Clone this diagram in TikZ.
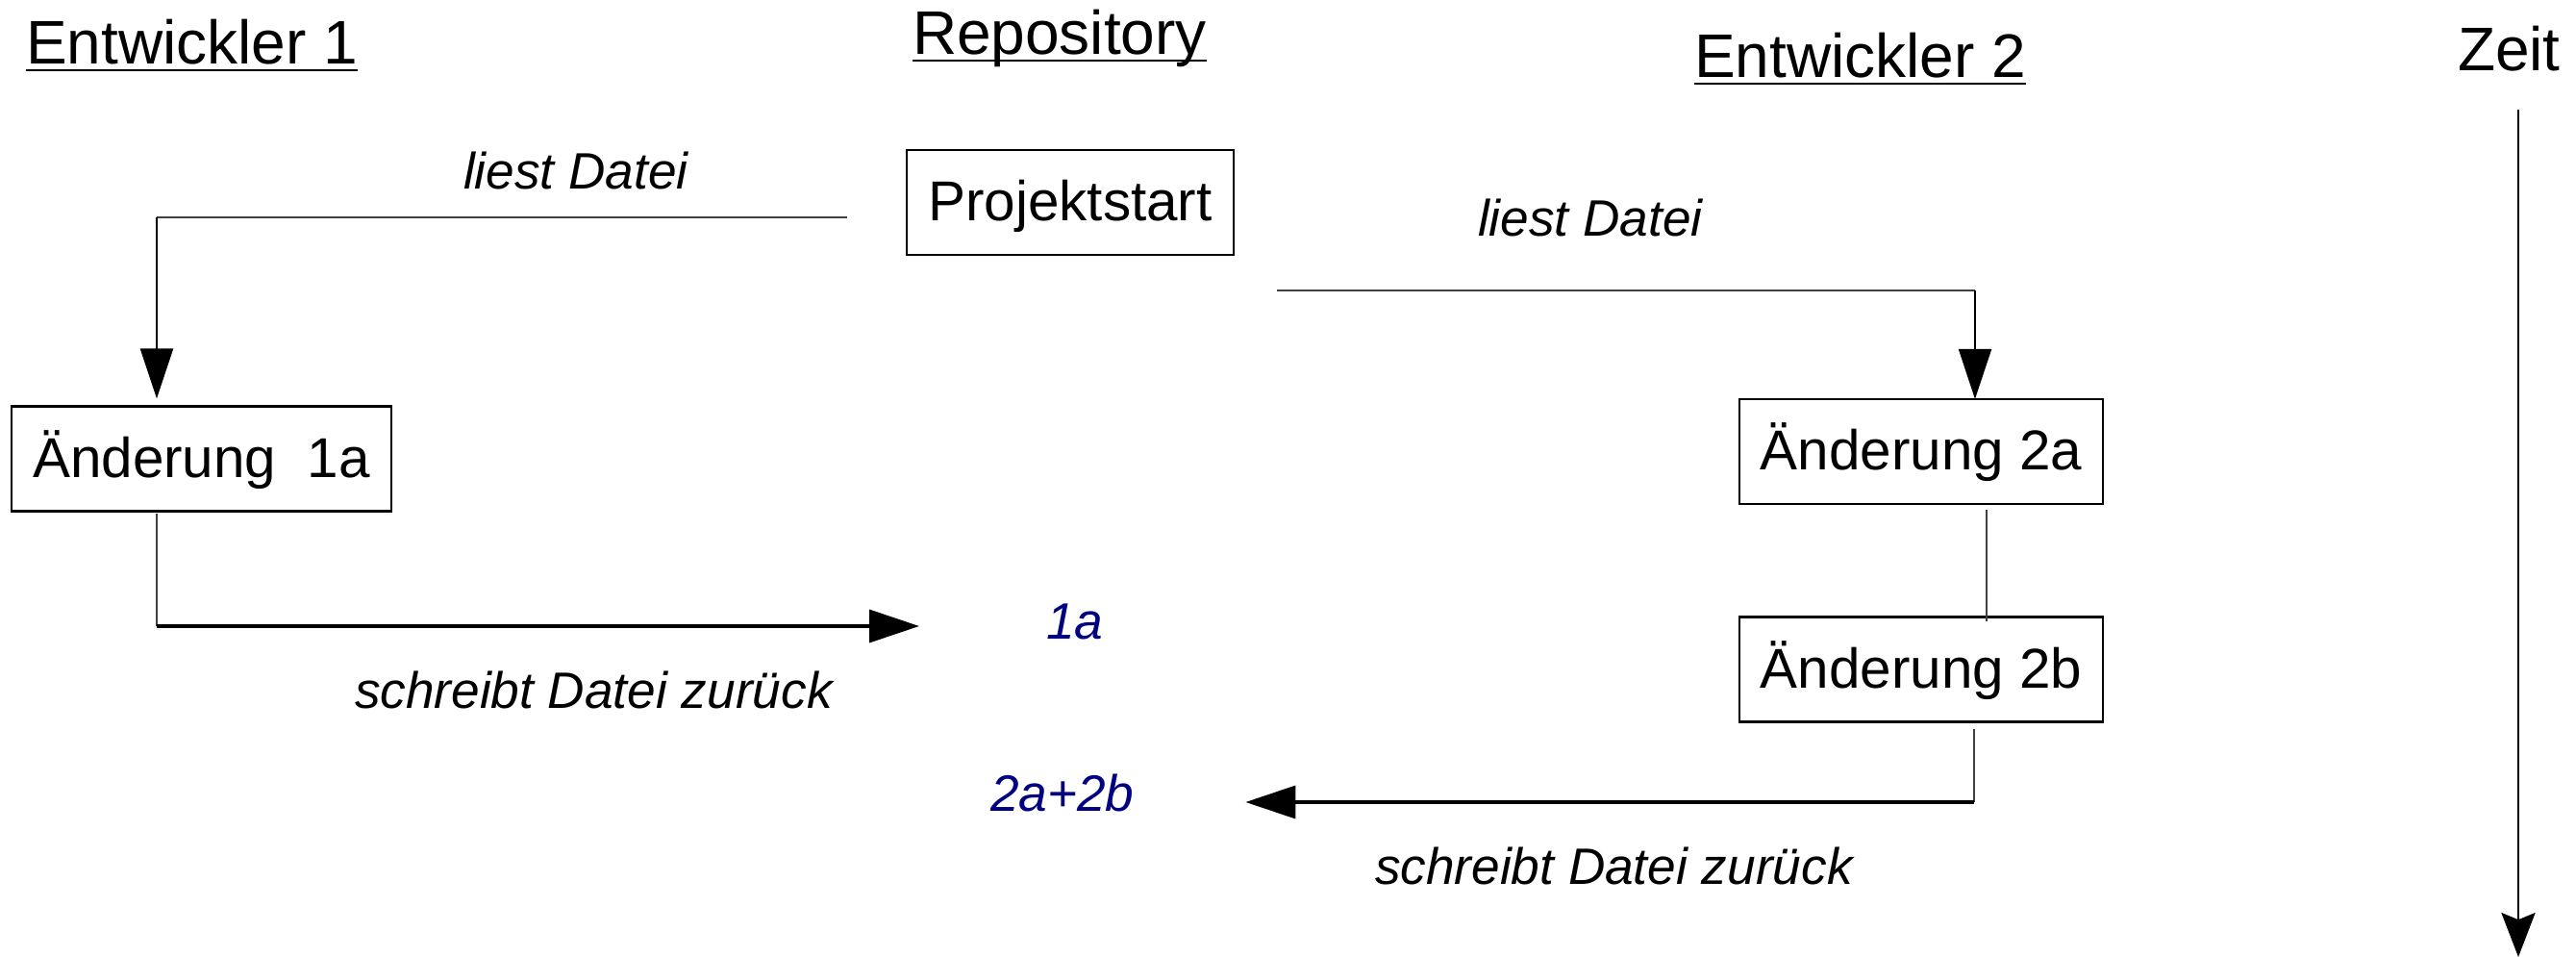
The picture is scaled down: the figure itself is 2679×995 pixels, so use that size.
\documentclass[tikz,border=0pt]{standalone}
\usepackage{fontspec}
\setmainfont{Liberation Sans}
\usetikzlibrary{arrows.meta}
\definecolor{versionblue}{RGB}{0,0,128}
\begin{document}
\begin{tikzpicture}[x=0.25pt,y=-0.25pt,
  every node/.style={inner sep=0pt,outer sep=0pt},
  heading/.style={anchor=base west,font=\fontsize{16}{19}\selectfont},
  uline/.style={line width=0.55pt},
  stepbox/.style={draw,line width=0.6pt,minimum height=27.3pt,
    text height=13.1pt,text depth=3.5pt,font=\fontsize{14.6}{17}\selectfont},
  action/.style={anchor=base west,font=\fontsize{13.3}{16}\selectfont\itshape},
  version/.style={action,text=versionblue},
  thinline/.style={line width=0.3pt,black!75},
  readarrow/.style={line width=0.55pt,-{Triangle[length=13pt,width=8.5pt]}},
  writearrow/.style={line width=0.85pt,-{Triangle[length=13pt,width=8.5pt]}},
  timearrow/.style={line width=0.5pt,-{Stealth[length=11.5pt,width=8.8pt,inset=1.8pt]}}]
\useasboundingbox (0,0) rectangle (2679,995);

% column headings
\node[heading] (e1) at (27,67) {Entwickler 1};
\node[heading] (repo) at (949,57) {Repository};
\node[heading] (e2) at (1762,81) {Entwickler 2};
\node[heading] (zeit) at (2556,74) {Zeit};
\foreach \h in {e1,repo,e2}
  \draw[uline] ([yshift=-1.6pt]\h.base west) -- ([yshift=-1.6pt]\h.base east);

% boxes
\node[stepbox,minimum width=85pt] (start) at (1113,210.5) {Projektstart};
\node[stepbox,minimum width=98.75pt] (a1) at (209.5,477) {Änderung\ \ 1a};
\node[stepbox,minimum width=94.5pt] (a2) at (1998,469.5) {Änderung 2a};
\node[stepbox,minimum width=94.5pt] (b2) at (1998,696) {Änderung 2b};

% labels
\node[action] (read1) at (482,197) {liest Datei};
\node[action] (read2) at (1537,246) {liest Datei};
\node[action] (write1) at (369,736) {schreibt Datei zurück};
\node[action] (write2) at (1430,919) {schreibt Datei zurück};
\node[version] (v1) at (1088,664) {1a};
\node[version] (v2) at (1030,843) {2a+2b};

% developer 1 reads the file
\coordinate (r1s) at (881,226);
\coordinate (r1c) at (163,226);
\draw[thinline] (r1s) -- (r1c);
\draw[readarrow,shorten >=2pt] (r1c) -- (r1c |- a1.north);

% developer 2 reads the file
\coordinate (r2s) at (1328,302);
\coordinate (r2c) at (2054,302);
\draw[thinline] (r2s) -- (r2c);
\draw[readarrow] (r2c) -- (r2c |- a2.north);

% developer 1 writes back
\coordinate (w1c) at (163,651);
\draw[thinline,shorten <=0.5pt] (a1.south -| w1c) -- (w1c);
\draw[writearrow,shorten >=33pt] (w1c) -- (w1c -| v1.west);

% second change of developer 2
\draw[thinline] ([xshift=17pt,yshift=-1.5pt]a2.south) -- ([xshift=17pt,yshift=-1.2pt]b2.north);

% developer 2 writes back
\coordinate (w2c) at (2053,834);
\draw[thinline,shorten <=1.8pt] (b2.south -| w2c) -- (w2c);
\draw[writearrow,shorten >=29pt] (w2c) -- (w2c -| v2.east);

% time axis
\coordinate (tTop) at (2619,114);
\coordinate (tEnd) at (2619,995);
\draw[timearrow] (tTop) -- (tEnd);
\end{tikzpicture}
\end{document}
